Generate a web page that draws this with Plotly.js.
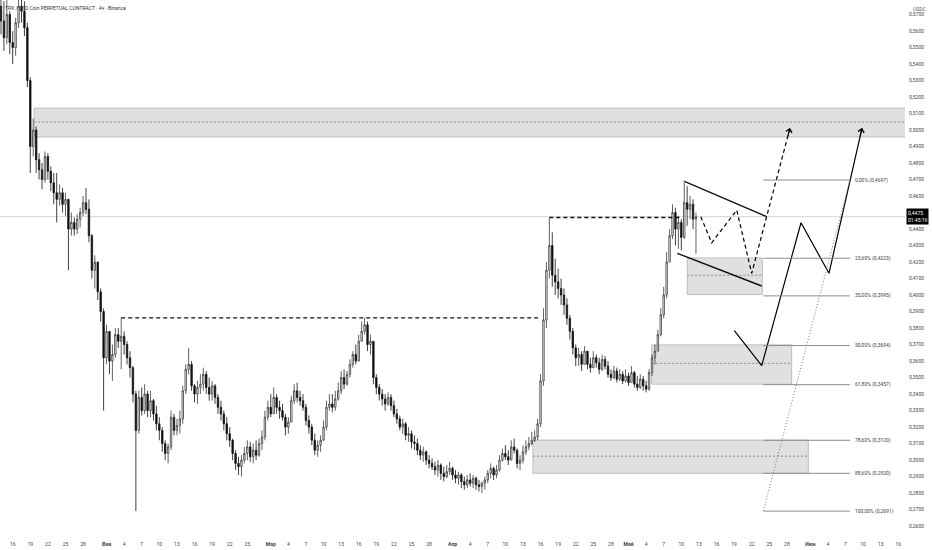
<!DOCTYPE html>
<html>
<head>
<meta charset="utf-8">
<script src="https://cdn.plot.ly/plotly-3.0.1.min.js"></script>
<style>html,body{margin:0;padding:0;background:#fff;}#chart{width:932px;height:550px;}</style>
</head>
<body>
<div id="chart"></div>
<script>
// ---- 12h candles, starting 2025-01-14 00:00 ----
const candleStart = [2025, 0, 14];
const candleStepHours = 12;
const firstOpen = 0.575;

const closes = [
0.566,0.556,0.570,0.553,0.550,0.565,0.575,0.572,0.562,0.530,
0.490,0.500,0.482,0.476,0.470,0.484,0.475,0.468,0.462,0.458,
0.462,0.455,0.458,0.440,0.444,0.440,0.446,0.450,0.456,0.452,
0.436,0.415,0.420,0.402,0.390,0.362,0.378,0.360,0.364,0.376,
0.372,0.375,0.370,0.362,0.356,0.340,0.318,0.338,0.330,0.340,
0.330,0.336,0.328,0.322,0.318,0.310,0.304,0.308,0.326,0.318,
0.321,0.325,0.342,0.355,0.358,0.345,0.340,0.344,0.346,0.352,
0.344,0.340,0.345,0.338,0.332,0.328,0.322,0.316,0.312,0.304,
0.298,0.296,0.300,0.304,0.308,0.302,0.306,0.303,0.310,0.314,
0.326,0.332,0.328,0.338,0.332,0.330,0.326,0.320,0.323,0.336,
0.342,0.338,0.336,0.332,0.324,0.320,0.312,0.306,0.309,0.312,
0.320,0.332,0.334,0.332,0.337,0.342,0.350,0.346,0.352,0.358,
0.364,0.360,0.372,0.378,0.382,0.370,0.372,0.350,0.344,0.340,
0.337,0.334,0.338,0.333,0.328,0.325,0.320,0.322,0.315,0.316,
0.311,0.310,0.306,0.303,0.305,0.300,0.298,0.296,0.294,0.297,
0.292,0.290,0.293,0.295,0.291,0.289,0.291,0.287,0.285,0.288,
0.286,0.289,0.285,0.284,0.286,0.288,0.292,0.295,0.291,0.294,
0.300,0.304,0.302,0.300,0.308,0.306,0.298,0.300,0.305,0.308,
0.310,0.312,0.314,0.322,0.348,0.385,0.415,0.430,0.412,0.408,
0.404,0.400,0.394,0.386,0.378,0.368,0.362,0.364,0.358,0.366,
0.358,0.356,0.362,0.359,0.355,0.361,0.357,0.352,0.350,0.354,
0.349,0.352,0.348,0.351,0.347,0.353,0.346,0.344,0.349,0.345,
0.343,0.353,0.362,0.366,0.376,0.388,0.400,0.420,0.436,0.450,
0.440,0.444,0.435,0.456,0.452,0.455,0.446,0.4475
];
const highs = [
0.585,0.578,0.582,0.572,0.560,0.568,0.590,0.592,0.578,0.565,
0.532,0.507,0.502,0.486,0.480,0.487,0.486,0.478,0.474,0.474,
0.467,0.465,0.462,0.458,0.450,0.447,0.449,0.453,0.460,0.465,
0.458,0.437,0.424,0.418,0.404,0.392,0.382,0.378,0.370,0.380,
0.380,0.3862,0.378,0.372,0.366,0.357,0.342,0.342,0.344,0.346,
0.342,0.342,0.337,0.333,0.326,0.320,0.312,0.310,0.330,0.328,
0.325,0.330,0.345,0.358,0.368,0.360,0.346,0.348,0.352,0.356,
0.354,0.350,0.348,0.346,0.340,0.336,0.330,0.326,0.320,0.313,
0.306,0.302,0.303,0.308,0.312,0.311,0.310,0.312,0.313,0.318,
0.330,0.336,0.340,0.344,0.340,0.336,0.334,0.328,0.326,0.339,
0.346,0.347,0.342,0.340,0.334,0.327,0.322,0.316,0.312,0.315,
0.324,0.336,0.340,0.340,0.342,0.347,0.354,0.355,0.354,0.361,
0.366,0.370,0.376,0.384,0.3862,0.384,0.376,0.370,0.352,0.346,
0.343,0.340,0.341,0.340,0.336,0.331,0.327,0.325,0.323,0.320,
0.318,0.315,0.313,0.309,0.308,0.306,0.303,0.301,0.299,0.300,
0.298,0.296,0.297,0.299,0.296,0.294,0.293,0.292,0.290,0.291,
0.292,0.291,0.290,0.288,0.287,0.290,0.294,0.298,0.296,0.297,
0.303,0.307,0.309,0.306,0.312,0.313,0.307,0.303,0.309,0.312,
0.314,0.317,0.318,0.325,0.352,0.392,0.420,0.447,0.438,0.422,
0.416,0.410,0.404,0.398,0.388,0.380,0.370,0.368,0.366,0.369,
0.366,0.362,0.366,0.364,0.362,0.364,0.363,0.360,0.355,0.357,
0.356,0.355,0.354,0.355,0.353,0.357,0.354,0.351,0.352,0.351,
0.348,0.355,0.364,0.370,0.379,0.392,0.405,0.426,0.440,0.455,
0.453,0.448,0.446,0.4697,0.466,0.460,0.458,0.450
];
const lows = [
0.558,0.548,0.552,0.546,0.540,0.545,0.562,0.565,0.557,0.526,
0.474,0.484,0.474,0.470,0.464,0.468,0.470,0.463,0.455,0.444,
0.454,0.450,0.448,0.415,0.436,0.436,0.437,0.441,0.448,0.449,
0.432,0.410,0.404,0.397,0.384,0.330,0.358,0.352,0.348,0.362,
0.368,0.355,0.364,0.358,0.350,0.335,0.2691,0.316,0.327,0.328,
0.326,0.326,0.324,0.318,0.312,0.305,0.300,0.298,0.306,0.315,
0.315,0.316,0.322,0.340,0.352,0.342,0.335,0.334,0.340,0.342,
0.340,0.336,0.336,0.334,0.328,0.324,0.318,0.312,0.308,0.300,
0.294,0.291,0.290,0.298,0.300,0.299,0.298,0.300,0.302,0.306,
0.312,0.324,0.326,0.332,0.328,0.325,0.324,0.315,0.316,0.324,
0.334,0.335,0.333,0.330,0.321,0.316,0.309,0.303,0.302,0.305,
0.312,0.318,0.330,0.329,0.330,0.336,0.340,0.343,0.345,0.350,
0.356,0.358,0.360,0.372,0.376,0.366,0.364,0.346,0.340,0.336,
0.333,0.330,0.333,0.330,0.326,0.322,0.318,0.316,0.312,0.311,
0.307,0.306,0.303,0.300,0.299,0.297,0.295,0.294,0.291,0.290,
0.288,0.287,0.289,0.291,0.288,0.286,0.285,0.283,0.282,0.283,
0.284,0.283,0.282,0.281,0.280,0.282,0.286,0.289,0.288,0.289,
0.293,0.299,0.300,0.297,0.300,0.304,0.295,0.294,0.298,0.303,
0.306,0.309,0.311,0.312,0.320,0.345,0.380,0.410,0.405,0.400,
0.398,0.394,0.388,0.382,0.373,0.364,0.357,0.357,0.354,0.358,
0.355,0.353,0.356,0.356,0.352,0.354,0.355,0.350,0.348,0.349,
0.347,0.348,0.346,0.347,0.345,0.348,0.344,0.342,0.343,0.342,
0.341,0.342,0.351,0.358,0.366,0.375,0.386,0.398,0.420,0.434,
0.430,0.428,0.427,0.434,0.442,0.446,0.440,0.425
];

// ---- axis ticks ----
const xTickVals = ['2025-01-16','2025-01-19','2025-01-22','2025-01-25','2025-01-28',
 '2025-02-01','2025-02-04','2025-02-07','2025-02-10','2025-02-13','2025-02-16','2025-02-19','2025-02-22','2025-02-25',
 '2025-03-01','2025-03-04','2025-03-07','2025-03-10','2025-03-13','2025-03-16','2025-03-19','2025-03-22','2025-03-25','2025-03-28',
 '2025-04-01','2025-04-04','2025-04-07','2025-04-10','2025-04-13','2025-04-16','2025-04-19','2025-04-22','2025-04-25','2025-04-28',
 '2025-05-01','2025-05-04','2025-05-07','2025-05-10','2025-05-13','2025-05-16','2025-05-19','2025-05-22','2025-05-25','2025-05-28',
 '2025-06-01','2025-06-04','2025-06-07','2025-06-10','2025-06-13','2025-06-16'];
const xTickText = ['16','19','22','25','28',
 '<b>Фев</b>','4','7','10','13','16','19','22','25',
 '<b>Мар</b>','4','7','10','13','16','19','22','25','28',
 '<b>Апр</b>','4','7','10','13','16','19','22','25','28',
 '<b>Май</b>','4','7','10','13','16','19','22','25','28',
 '<b>Июн</b>','4','7','10','13','16'];
const yTickVals = [0.26,0.27,0.28,0.29,0.30,0.31,0.32,0.33,0.34,0.35,0.36,0.37,0.38,0.39,0.40,0.41,
 0.42,0.43,0.44,0.45,0.46,0.47,0.48,0.49,0.50,0.51,0.52,0.53,0.54,0.55,0.56,0.57];

// ---- drawings ----
const zones = [
 {x0:'2025-01-19 16:20', x1:'2025-06-18 00:00', y0:0.4958, y1:0.5133, mid:0.5048},
 {x0:'2025-05-11 00:30', x1:'2025-05-23 19:30', y0:0.4003, y1:0.4225, mid:0.4120},
 {x0:'2025-05-04 22:50', x1:'2025-05-28 19:40', y0:0.3460, y1:0.3698, mid:0.3586},
 {x0:'2025-04-14 17:00', x1:'2025-05-31 15:40', y0:0.2920, y1:0.3121, mid:0.3024}
];
const dashedLevels = [
 {x0:'2025-02-03 12:00', x1:'2025-04-15 13:40', y:0.3862},
 {x0:'2025-04-17 12:00', x1:'2025-05-09 18:40', y:0.4470}
];
const wedge = [
 {x0:'2025-05-10 15:10', y0:0.4687, x1:'2025-05-24 13:30', y1:0.4475},
 {x0:'2025-05-09 07:40', y0:0.4253, x1:'2025-05-23 17:00', y1:0.4055}
];
const pathDashedX = ['2025-05-13 07:30','2025-05-15 04:20','2025-05-19 10:50','2025-05-22 00:00','2025-05-28 12:45'];
const pathDashedY = [0.4475,0.4317,0.4515,0.4132,0.5012];
const pathSolidX = ['2025-05-19 01:00','2025-05-23 17:00','2025-05-30 09:50','2025-06-04 04:20','2025-06-09 19:30'];
const pathSolidY = [0.3784,0.3572,0.4438,0.4132,0.5012];
const fibStart = '2025-05-23 23:30', fibEnd = '2025-06-07 18:15';
const fibPct = [0, 23.6, 35, 50, 61.8, 78.6, 88.6, 100];
const fibPrice = [0.4697, 0.4223, 0.3995, 0.3694, 0.3457, 0.3120, 0.2920, 0.2691];
const lastPrice = 0.4475;
const countdown = '01:45:19';
const titleText = 'TRX / USD Coin PERPETUAL CONTRACT · 4ч · Binance';

// ---- build ----
function pad(n){return (n<10?'0':'')+n;}
const t0 = Date.UTC(candleStart[0], candleStart[1], candleStart[2]);
const times = closes.map((_, i) => {
  const d = new Date(t0 + i*candleStepHours*3600e3);
  return d.getUTCFullYear()+'-'+pad(d.getUTCMonth()+1)+'-'+pad(d.getUTCDate())+' '+pad(d.getUTCHours())+':00';
});
const opens = [firstOpen].concat(closes.slice(0, -1));
const hi = highs.map((h,i)=>Math.max(h, opens[i], closes[i]));
const lo = lows.map((l,i)=>Math.min(l, opens[i], closes[i]));

const comma = (v, d) => v.toFixed(d).replace('.', ',');

const traces = [
 {type:'candlestick', x:times, open:opens, high:hi, low:lo, close:closes,
  increasing:{line:{color:'#3a3a3a', width:0.8}, fillcolor:'#ffffff'},
  decreasing:{line:{color:'#111111', width:0.8}, fillcolor:'#111111'},
  whiskerwidth:0, hoverinfo:'skip', showlegend:false},
 {type:'scatter', mode:'lines', x:pathDashedX, y:pathDashedY,
  line:{color:'#000', width:1.2, dash:'4px,3px'}, hoverinfo:'skip', showlegend:false},
 {type:'scatter', mode:'lines', x:pathSolidX, y:pathSolidY,
  line:{color:'#000', width:1.2}, hoverinfo:'skip', showlegend:false},
 {type:'scatter', mode:'lines', x:[fibStart, fibEnd], y:[fibPrice[fibPrice.length-1], fibPrice[0]],
  line:{color:'#777', width:1, dash:'1px,2px'}, hoverinfo:'skip', showlegend:false}
];

const shapes = [];
shapes.push({type:'line', xref:'paper', x0:0, x1:1, yref:'y', y0:lastPrice, y1:lastPrice,
  line:{color:'#d6d6d6', width:1}, layer:'below'});
zones.forEach(z => {
  shapes.push({type:'rect', xref:'x', yref:'y', x0:z.x0, x1:z.x1, y0:z.y0, y1:z.y1,
    fillcolor:'#e0e0e0', line:{color:'#bdbdbd', width:1}, layer:'below'});
  shapes.push({type:'line', xref:'x', yref:'y', x0:z.x0, x1:z.x1, y0:z.mid, y1:z.mid,
    line:{color:'#8a8a8a', width:1, dash:'2px,2px'}, layer:'below'});
});
dashedLevels.forEach(l => shapes.push({type:'line', xref:'x', yref:'y', x0:l.x0, x1:l.x1, y0:l.y, y1:l.y,
  line:{color:'#111', width:1.3, dash:'4px,3px'}}));
wedge.forEach(w => shapes.push({type:'line', xref:'x', yref:'y', x0:w.x0, x1:w.x1, y0:w.y0, y1:w.y1,
  line:{color:'#111', width:1.4}}));
fibPrice.forEach(p => shapes.push({type:'line', xref:'x', yref:'y', x0:fibStart, x1:fibEnd, y0:p, y1:p,
  line:{color:'#8c8c8c', width:1}}));

const annotations = [];
fibPct.forEach((pct, i) => annotations.push({xref:'x', yref:'y', x:fibEnd, y:fibPrice[i],
  text: comma(pct,2)+'% ('+comma(fibPrice[i],4)+')', showarrow:false, xanchor:'left', yanchor:'middle',
  xshift:3, font:{size:5, color:'#444', family:'Roboto, sans-serif'}}));
annotations.push({xref:'x', yref:'y', x:pathDashedX[pathDashedX.length-1], y:pathDashedY[pathDashedY.length-1],
  showarrow:true, text:'', ax:-2.6, ay:9.7, arrowhead:4, arrowsize:1.1, arrowwidth:1.1, arrowcolor:'#000'});
annotations.push({xref:'x', yref:'y', x:pathSolidX[pathSolidX.length-1], y:pathSolidY[pathSolidY.length-1],
  showarrow:true, text:'', ax:-2.2, ay:9.7, arrowhead:4, arrowsize:1.1, arrowwidth:1.1, arrowcolor:'#000'});
annotations.push({xref:'paper', yref:'y', x:1, y:lastPrice, xanchor:'left', yanchor:'middle', xshift:1,
  text: comma(lastPrice,4)+'<br>'+countdown, showarrow:false, align:'left', bgcolor:'#000', borderpad:1,
  font:{size:5, color:'#fff', family:'Roboto, sans-serif'}});
annotations.push({xref:'paper', yref:'paper', x:1, y:1, xanchor:'left', yanchor:'top', xshift:6, yshift:-4,
  text:'USDC', showarrow:false, font:{size:5, color:'#555', family:'Roboto, sans-serif'}});
annotations.push({xref:'paper', yref:'paper', x:0, y:1, xanchor:'left', yanchor:'top', xshift:3, yshift:-3,
  text:titleText, showarrow:false, font:{size:5, color:'#333', family:'Roboto, sans-serif'}});

const layout = {
  width:932, height:550,
  margin:{l:0, r:27, t:0, b:14},
  paper_bgcolor:'#ffffff', plot_bgcolor:'#ffffff',
  separators:', ',
  showlegend:false, hovermode:false, dragmode:false,
  font:{family:'Roboto, sans-serif', size:5, color:'#444'},
  xaxis:{type:'date', range:['2025-01-13 20:02','2025-06-17 03:22'], rangeslider:{visible:false},
    showgrid:false, zeroline:false, showline:false, ticks:'',
    tickmode:'array', tickvals:xTickVals, ticktext:xTickText, ticklabelstandoff:4,
    tickfont:{size:5, color:'#444'}, fixedrange:true},
  yaxis:{side:'right', range:[0.2540, 0.5788], showgrid:false, zeroline:false, showline:false, ticks:'',
    tickmode:'array', tickvals:yTickVals, tickformat:'.4f', ticklabelstandoff:3,
    tickfont:{size:5, color:'#444'}, fixedrange:true},
  shapes:shapes, annotations:annotations
};

Plotly.newPlot('chart', traces, layout, {displayModeBar:false, staticPlot:true});
</script>
</body>
</html>
